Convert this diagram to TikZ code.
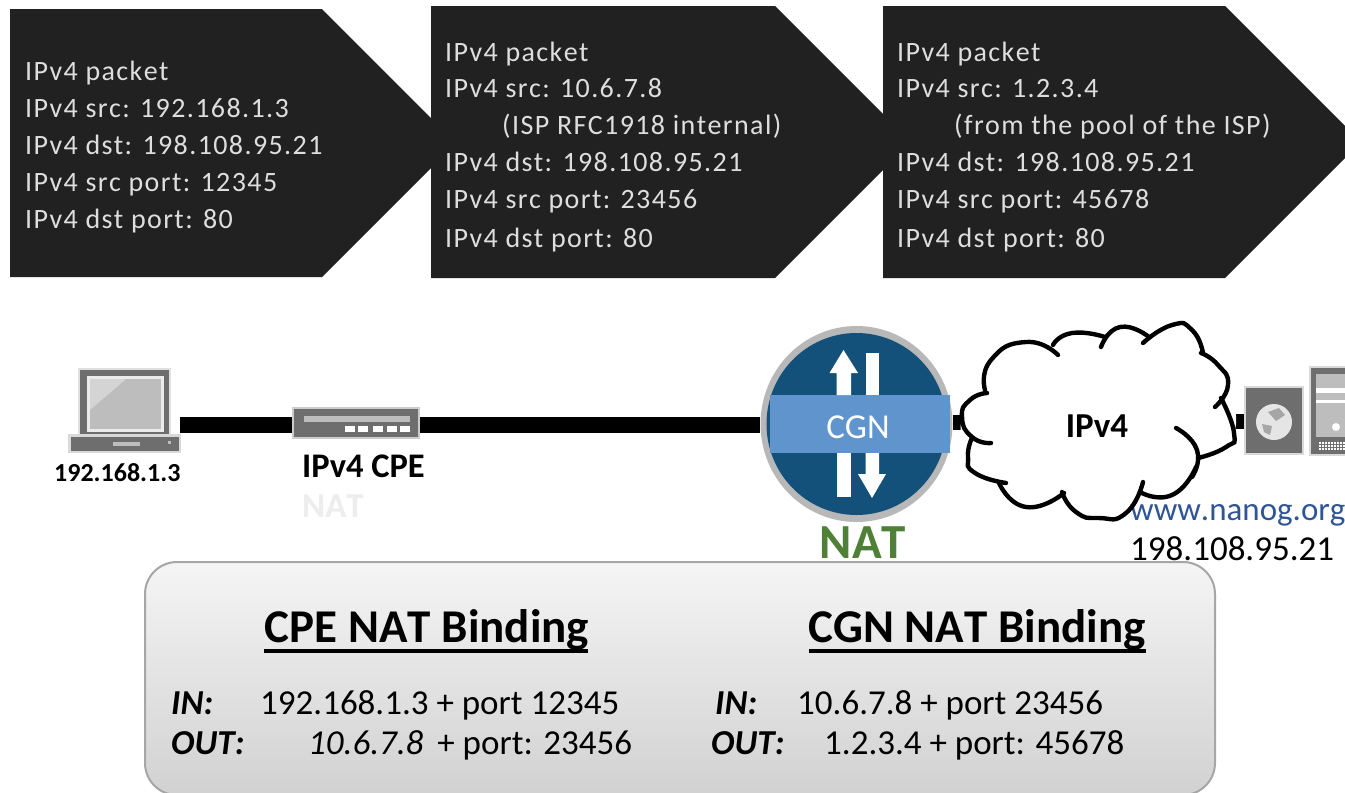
\documentclass[tikz,border=0pt]{standalone}
\usepackage{fontspec}
\setmainfont[Kerning=Off]{Carlito}
\definecolor{pktbg}{HTML}{212121}
\definecolor{pkttx}{HTML}{DEDEDE}
\definecolor{navy}{HTML}{14517A}
\definecolor{band}{HTML}{5F95CC}
\definecolor{natgreen}{HTML}{4E8035}
\definecolor{urlblue}{HTML}{2F5597}
\definecolor{icond}{HTML}{6E6E6E}
\definecolor{iconl}{HTML}{BDBDBD}
\tikzset{
  pkt/.style={fill=pktbg,draw=none},
  pkttext/.style={anchor=base west,text=pkttx,font=\addfontfeature{LetterSpace=5}\fontsize{28}{28}\selectfont,inner sep=0pt},
  link/.style={line width=16pt,black},
  lobe/.style={line width=4.4pt,black,line cap=round,smooth,tension=1},
  boxt/.style={anchor=base west,inner sep=0pt,font=\fontsize{35}{35}\selectfont,text=black},
  boxk/.style={anchor=base west,inner sep=0pt,font=\bfseries\itshape\fontsize{35}{35}\selectfont,text=black},
  head/.style={anchor=base,inner sep=0pt,font=\bfseries\fontsize{47}{47}\selectfont},
  lab/.style={anchor=base west,inner sep=0pt},
  ghost/.style={inner sep=0pt,minimum width=#1,draw=none},
}
\begin{document}
\begin{tikzpicture}[x=1pt,y=-1pt]
\useasboundingbox (0,0) rectangle (1345,793);
\clip (0,0) rectangle (1345,793);
\fill[white] (0,0) rectangle (1345,793);
% packets
\fill[pkt] (10,9) -- (322,9) -- (456,143) -- (322,277) -- (10,277) -- cycle;
\fill[pkt] (431,6) -- (775,6) -- (911,142) -- (775,278) -- (431,278) -- cycle;
\fill[pkt] (883,6) -- (1225,6) -- (1361,142) -- (1225,278) -- (883,278) -- cycle;
\node[pkttext] (a1) at (25,80) {IPv4 packet};
\node[pkttext] (a2) at (25,117) {IPv4 src: 192.168.1.3};
\node[pkttext] (a3) at (25,154) {IPv4 dst: 198.108.95.21};
\node[pkttext] (a4) at (25,191) {IPv4 src port: 12345};
\node[pkttext] (a5) at (25,228) {IPv4 dst port: 80};
\node[pkttext] (b1) at (445,61) {IPv4 packet};
\node[pkttext] (b2) at (445,97) {IPv4 src: 10.6.7.8};
\node[pkttext] (b3) at (502,134) {(ISP RFC1918 internal)};
\node[pkttext] (b4) at (445,171) {IPv4 dst: 198.108.95.21};
\node[pkttext] (b5) at (445,208) {IPv4 src port: 23456};
\node[pkttext] (b6) at (445,247) {IPv4 dst port: 80};
\node[pkttext] (c1) at (897,61) {IPv4 packet};
\node[pkttext] (c2) at (897,97) {IPv4 src: 1.2.3.4};
\node[pkttext] (c3) at (954,134) {(from the pool of the ISP)};
\node[pkttext] (c4) at (897,171) {IPv4 dst: 198.108.95.21};
\node[pkttext] (c5) at (897,208) {IPv4 src port: 45678};
\node[pkttext] (c6) at (897,247) {IPv4 dst port: 80};
% anchor nodes
\node[ghost=111pt,minimum height=85pt] (laptop) at (124,410) {};
\node[ghost=128pt,minimum height=32pt] (cpe) at (356,423.5) {};
\node[ghost=192pt,minimum height=196pt] (cgn) at (856.5,424) {};
\node[ghost=272pt,minimum height=190pt] (cloud) at (1098,422) {};
\node[ghost=56pt,minimum height=66pt] (globe) at (1274,420.5) {};
% connectors
\draw[link] (laptop.east |- 0,424.5) -- (cpe.west |- 0,424.5);
\draw[link] (cpe.east |- 0,424.5) -- (cgn.west |- 0,424.5);
\draw[link,line width=15pt] (cgn.east |- 0,422) -- (cloud.west |- 0,422);
\draw[link,line width=15pt] (cloud.east |- 0,421) -- (globe.west |- 0,421);
% laptop
\fill[black!12] (78,368) rectangle (171,437);
\fill[icond] (80,370) rectangle (169,435);
\fill[black!8] (87,376) rectangle (164,432);
\fill[iconl] (90,379) rectangle (161,429);
\fill[black!17] (90,379) -- (126,379) -- (90,410) -- cycle;
\fill[black!15] (68,434) rectangle (181,453);
\fill[icond] (71,437) rectangle (179,451);
\fill[iconl] (113,442) rectangle (140,446);
\fill[iconl] (168,441) rectangle (171,444);
% cpe
\fill[black!20] (292,407) rectangle (420,439);
\fill[icond] (294,409) rectangle (418,437);
\fill[iconl] (304,416) rectangle (410,422);
\foreach \x in {345,358,373,387,400}
  \fill[white] (\x,426) rectangle +(10,6);
\node[lab,font=\bfseries\fontsize{26}{26}\selectfont] (addr) at (54,481) {192.168.1.3};
\node[lab,font=\bfseries\fontsize{34.5}{34.5}\selectfont] (cpel) at (302,477) {IPv4 CPE};
\node[lab,font=\bfseries\fontsize{35}{35}\selectfont,text=black!7!white] (cpen) at (302,517) {NAT};
% CGN
\fill[black!28] (cgn.center) ellipse (96 and 98);
\fill[navy] (cgn.center) ellipse (90 and 91);
\fill[band] (770,395) rectangle (950,453);
\fill[white] (836.5,395) -- (836.5,373) -- (829.5,373) -- (843.5,350) -- (858,373) -- (851,373) -- (851,395) -- cycle;
\fill[white] (865.5,353) rectangle (879,395);
\fill[white] (836.5,453) rectangle (851,497);
\fill[white] (865.5,453) -- (865.5,474) -- (858,474) -- (872,498) -- (886,474) -- (879,474) -- (879,453) -- cycle;
\node[font=\fontsize{35}{35}\selectfont,text=white] (cgnt) at (858,427) {CGN};
\node[font=\bfseries\fontsize{49}{49}\selectfont,text=natgreen] (natl) at (863,543) {NAT};
% url and address lie under cloud and panel
\node[lab,font=\fontsize{33}{33}\selectfont,text=urlblue] (url) at (1130,520) {www.nanog.org};
\node[lab,font=\fontsize{35}{35}\selectfont] (ip) at (1130,560) {198.108.95.21};
% cloud
\fill[white] plot[smooth cycle,tension=.7] coordinates {(962,417)(968,457)(999,483)(1026,507)(1062,497)(1099,518)(1143,490)(1172,495)(1198,458)(1234,433)(1227,383)(1201,353)(1172,325)(1120,327)(1072,333)(1026,342)(991,360)(985,393)};
\draw[lobe] plot coordinates {(987,393)(970,400)(962,417)(972,437)(991,443)};
\draw[lobe] plot coordinates {(972,438)(968,457)(975,473)(1006,483)};
\draw[lobe] plot coordinates {(999,483)(1026,507)(1064,493)};
\draw[lobe] plot coordinates {(1062,492)(1076,512)(1099,518)(1126,513)(1143,482)};
\draw[lobe] plot coordinates {(1140,492)(1172,495)(1196,467)};
\draw[lobe] plot coordinates {(1176,428)(1197,450)(1192,477)};
\draw[lobe] plot coordinates {(1198,458)(1226,447)(1234,433)(1221,398)};
\draw[lobe] plot coordinates {(1215,407)(1228,385)(1218,365)(1201,353)};
\draw[lobe] plot coordinates {(1203,353)(1192,330)(1172,325)(1143,343)};
\draw[lobe] plot coordinates {(1149,337)(1120,327)(1101,347)};
\draw[lobe] plot coordinates {(1105,337)(1072,333)(1053,345)};
\draw[lobe] plot coordinates {(1058,355)(1026,342)(991,360)(985,390)};
\node[font=\bfseries\fontsize{35}{35}\selectfont] (ipv4) at (1097,426) {IPv4};
% server
\fill[black!15] (1244,386) rectangle (1304,455);
\fill[icond] (1246,388) rectangle (1302,453);
\fill[black!10] (1274,422) circle (18);
\fill[black!35] (1268,412) -- (1279,408) -- (1285,415) -- (1276,421) -- cycle;
\fill[black!35] (1262,424) -- (1272,426) -- (1270,435) -- (1264,432) -- cycle;
\fill[black!15] (1309,366) rectangle (1345,456);
\fill[icond] (1311,368) rectangle (1345,454);
\fill[iconl] (1316,374) rectangle (1345,437);
\fill[white] (1316,388) rectangle (1345,393);
\fill[white] (1316,400) rectangle (1345,403);
\fill[white] (1336,427) circle (4);
\foreach \x in {1319,1322,...,1343} \foreach \y in {442,445,448}
  \fill[white] (\x,\y) rectangle +(1.8,1.8);
% binding box
\draw[draw=black!35,line width=2pt,top color=black!4,bottom color=black!18,rounded corners=32pt] (145,562) rectangle (1215,795);
\node[head] (h1) at (427,642) {CPE NAT Binding};
\node[head] (h2) at (977,642) {CGN NAT Binding};
\coordinate (u1a) at (264,651); \coordinate (u1b) at (588,651);
\coordinate (u2a) at (809,651); \coordinate (u2b) at (1146,651);
\draw[line width=4.5pt] (u1a) -- (u1b);
\draw[line width=4.5pt] (u2a) -- (u2b);
\node[boxk] (i1) at (171,714) {IN:};
\node[boxk] (o1) at (171,754) {OUT:};
\node[boxt] (v1) at (260,714) {192.168.1.3 + port 12345};
\node[boxt] (w1) at (308,754) {\textit{10.6.7.8}\hspace{14pt}+ port: 23456};
\node[boxk] (i2) at (715,714) {IN:};
\node[boxk] (o2) at (711,754) {OUT:};
\node[boxt] (v2) at (797,714) {10.6.7.8 + port 23456};
\node[boxt] (w2) at (824,754) {1.2.3.4 + port: 45678};
\end{tikzpicture}
\end{document}
